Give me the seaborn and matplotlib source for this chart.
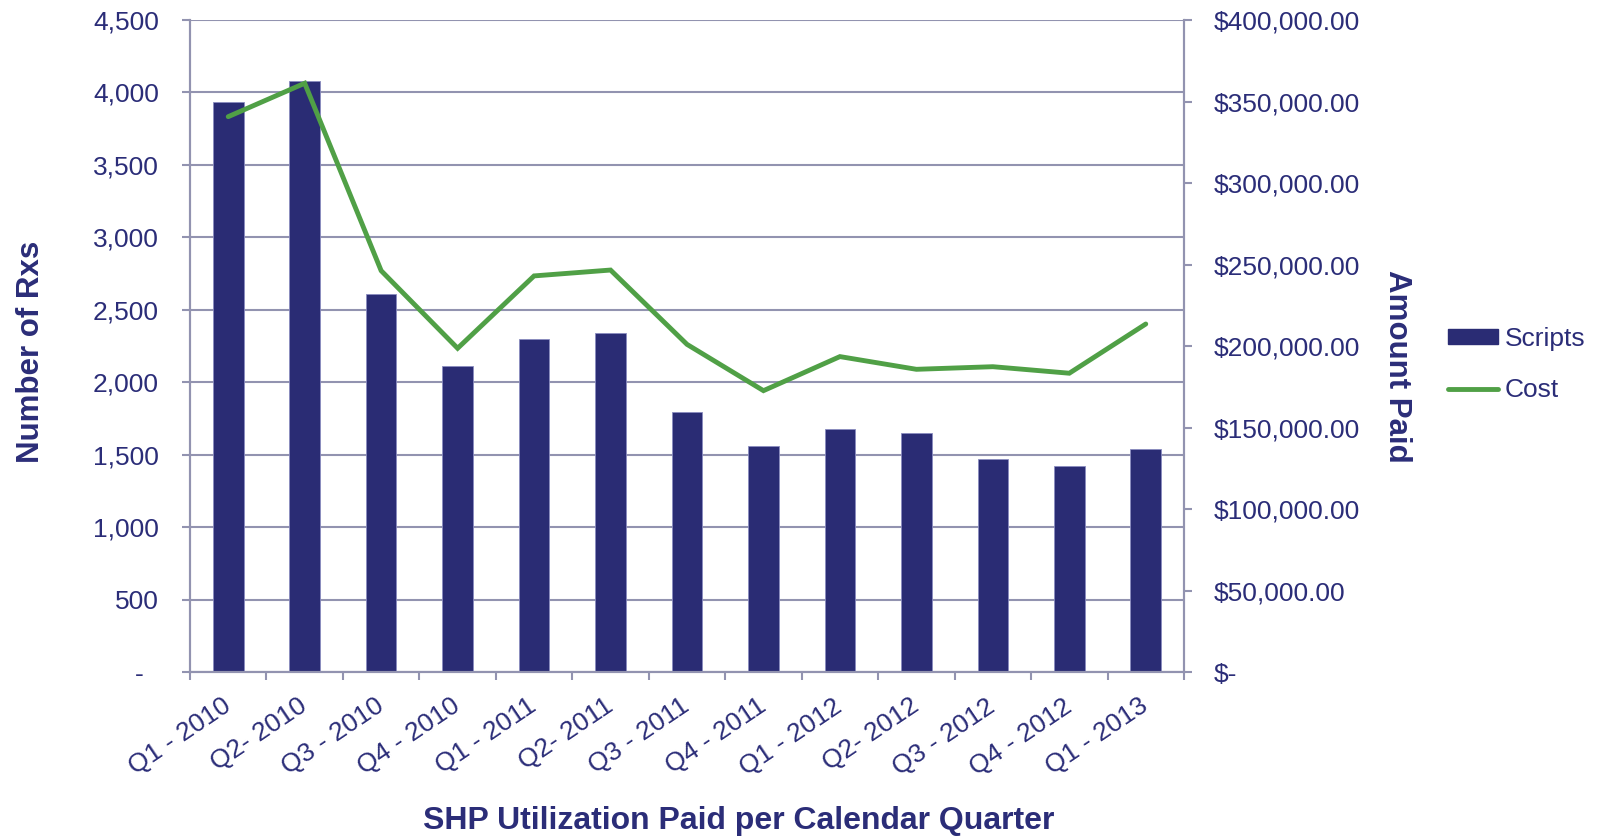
import numpy as np
import pandas as pd
import matplotlib
matplotlib.use("Agg")
import matplotlib.pyplot as plt
import matplotlib.transforms as mtransforms
import seaborn as sns
from matplotlib.patches import Patch
from matplotlib.lines import Line2D
from matplotlib.ticker import FuncFormatter, MultipleLocator, FixedLocator

quarters = ["Q1 - 2010", "Q2- 2010", "Q3 - 2010", "Q4 - 2010", "Q1 - 2011", "Q2- 2011",
            "Q3 - 2011", "Q4 - 2011", "Q1 - 2012", "Q2- 2012", "Q3 - 2012", "Q4 - 2012",
            "Q1 - 2013"]
scripts = [3936, 4079, 2606, 2112, 2298, 2340, 1797, 1560, 1675, 1647, 1470, 1420, 1541]
cost = [340700, 361200, 246200, 198600, 243000, 246600, 201000, 172600, 193500,
        185700, 187300, 183300, 213500]

NAVY = "#2a2c74"
TEXT = "#2b2d78"
GREEN = "#50a046"
GRID = "#9293b0"
FS = 19

sns.set_theme(style="white")
plt.rcParams["font.family"] = ["Liberation Sans", "DejaVu Sans"]

df = pd.DataFrame({"quarter": quarters, "scripts": scripts, "cost": cost,
                   "pos": np.arange(len(quarters))})

fig = plt.figure(figsize=(15.99, 8.39), dpi=100)
ax = fig.add_axes([190 / 1599, 1 - 672 / 839, (1184 - 190) / 1599, (672 - 20) / 839])

sns.barplot(data=df, x="quarter", y="scripts", ax=ax, color=NAVY, saturation=1,
            width=0.4, edgecolor="#8a8cc0", linewidth=0.6)
ax.set_xlim(-0.5, len(quarters) - 0.5)
ax.set_ylim(0, 4500)
ax.yaxis.set_major_locator(MultipleLocator(500))
ax.yaxis.set_major_formatter(FuncFormatter(lambda v, p: "-  " if v == 0 else f"{int(v):,}"))
ax.grid(axis="y", color=GRID, linewidth=1.5)
ax.grid(axis="x", visible=False)
ax.set_axisbelow(True)

ax2 = ax.twinx()
sns.lineplot(data=df, x="pos", y="cost", ax=ax2, color=GREEN, linewidth=3.5,
             solid_capstyle="round", solid_joinstyle="miter")
ax2.set_ylim(0, 400000)
ax2.yaxis.set_major_locator(MultipleLocator(50000))
ax2.yaxis.set_major_formatter(FuncFormatter(lambda v, p: "$-" if v == 0 else f"${v:,.2f}"))
ax2.grid(False)
ax2.set_xlim(-0.5, len(quarters) - 0.5)

for a in (ax, ax2):
    a.spines["top"].set_visible(False)
    for s in ("left", "right", "bottom"):
        a.spines[s].set_color(GRID)
        a.spines[s].set_linewidth(1.5)

# category ticks
ax.set_xticks(np.arange(len(quarters)))
ax.set_xticklabels(quarters, rotation=34, ha="right", va="center", rotation_mode="anchor")
shift = mtransforms.ScaledTranslation(-5 / 100, 0, fig.dpi_scale_trans)
for lab in ax.get_xticklabels():
    lab.set_transform(lab.get_transform() + shift)
ax.xaxis.set_minor_locator(FixedLocator(np.arange(-0.5, len(quarters), 1.0)))
ax.tick_params(axis="x", which="major", length=0, pad=23, labelsize=FS, labelcolor=TEXT)
ax.tick_params(axis="x", which="minor", length=5.5, width=1.5, color=GRID, bottom=True)
ax.tick_params(axis="y", left=True, length=5.5, width=1.5, color=GRID, pad=17,
               labelsize=FS, labelcolor=TEXT)
ax2.tick_params(axis="y", right=True, length=5.5, width=1.5, color=GRID, pad=16,
                labelsize=FS, labelcolor=TEXT)

ax.set_xlabel("SHP Utilization Paid per Calendar Quarter", fontsize=23, fontweight="bold",
              color=TEXT, va="center", ha="center")
ax.xaxis.set_label_coords(0.552, -0.2285)
ax.set_ylabel("Number of Rxs", fontsize=22.5, fontweight="bold", color=TEXT,
              va="center", ha="center")
ax.yaxis.set_label_coords(-0.1604, 0.491)
ax2.set_ylabel("Amount Paid", fontsize=22.5, fontweight="bold", color=TEXT,
               rotation=270, va="center", ha="center")
ax2.yaxis.set_label_coords(1.2143, 0.468)

handles = [Patch(facecolor=NAVY, edgecolor=NAVY),
           Line2D([0], [0], color=GREEN, linewidth=3.5, solid_capstyle="round")]
fig.legend(handles, ["Scripts", "Cost"], loc="center left",
           bbox_to_anchor=(1424 / 1599, 1 - 364.5 / 839), frameon=False,
           fontsize=FS, labelcolor=TEXT, handlelength=1.9, handleheight=0.53,
           handletextpad=0.25, labelspacing=1.05)

fig.savefig("out.png", dpi=100)
